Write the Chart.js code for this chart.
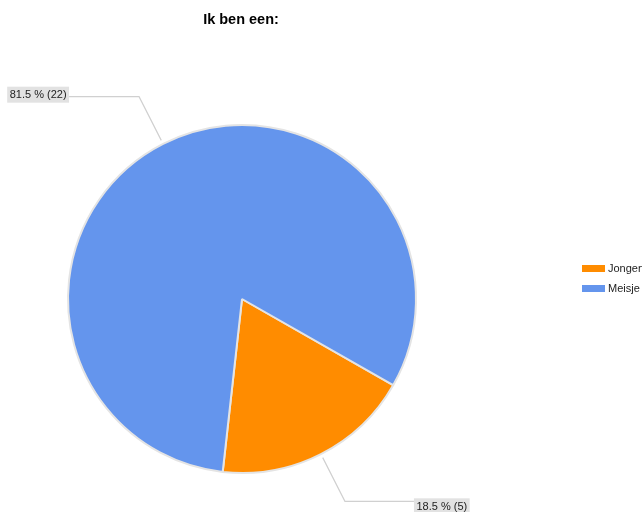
<!DOCTYPE html>
<html>
<head>
<meta charset="utf-8">
<script src="https://cdn.jsdelivr.net/npm/chart.js@4.4.1/dist/chart.umd.min.js"></script>
<style>
  html, body { margin: 0; padding: 0; background: #ffffff; }
  #wrap { width: 642px; height: 512px; position: relative; }
</style>
</head>
<body>
<div id="wrap"><canvas id="c" width="642" height="512"></canvas></div>
<script>
const titleText = 'Ik ben een:';
const categories = ['Jongen', 'Meisje'];
const counts = [5, 22];
const percentLabels = ['18.5 %', '81.5 %'];
const sliceColors = ['#ff8c00', '#6495ed'];

const FONT = '"Liberation Sans", Arial, sans-serif';

const overlayPlugin = {
  id: 'overlay',
  afterDraw(chart) {
    const ctx = chart.ctx;
    ctx.save();
    // Title
    ctx.font = 'bold 14.5px ' + FONT;
    ctx.fillStyle = '#000000';
    ctx.textAlign = 'center';
    ctx.textBaseline = 'middle';
    ctx.fillText(titleText, 241, 20);

    // Callouts
    const meta = chart.getDatasetMeta(0);
    meta.data.forEach((arc, i) => {
      const p = arc.getProps(['x', 'y', 'startAngle', 'endAngle', 'outerRadius'], true);
      const mid = (p.startAngle + p.endAngle) / 2;
      const r0 = p.outerRadius + 4;
      const r1 = p.outerRadius + 53;
      const sx = p.x + Math.cos(mid) * r0, sy = p.y + Math.sin(mid) * r0;
      const ex = p.x + Math.cos(mid) * r1, ey = p.y + Math.sin(mid) * r1;
      const right = Math.cos(mid) >= 0;
      const hx = right ? ex + 69 : ex - 70;
      ctx.strokeStyle = '#d0d0d0';
      ctx.lineWidth = 1.2;
      ctx.beginPath();
      ctx.moveTo(sx, sy);
      ctx.lineTo(ex, ey);
      ctx.lineTo(hx, ey);
      ctx.stroke();
      const text = percentLabels[i] + ' (' + counts[i] + ')';
      ctx.font = '11px ' + FONT;
      const tw = ctx.measureText(text).width;
      const bw = tw + 5, bh = 16;
      const bx = right ? hx : hx - bw;
      const by = right ? ey - 3 : ey - 10;
      ctx.fillStyle = '#e2e2e2';
      ctx.fillRect(bx, by, bw, bh);
      ctx.fillStyle = '#222222';
      ctx.textAlign = 'left';
      ctx.textBaseline = 'middle';
      ctx.fillText(text, bx + 2.5, by + bh / 2 + 0.5);
    });

    // Legend
    categories.forEach((name, i) => {
      const y = 265 + i * 20;
      ctx.fillStyle = sliceColors[i];
      ctx.fillRect(582, y, 23, 7);
      ctx.fillStyle = '#222222';
      ctx.font = '11px ' + FONT;
      ctx.textAlign = 'left';
      ctx.textBaseline = 'middle';
      ctx.fillText(name, 608, y + 3.5);
    });
    ctx.restore();
  }
};

new Chart(document.getElementById('c'), {
  type: 'pie',
  data: {
    labels: categories,
    datasets: [{
      data: counts,
      backgroundColor: sliceColors,
      borderColor: '#e4e4e4',
      borderWidth: 2
    }]
  },
  options: {
    responsive: false,
    animation: false,
    rotation: 119.7,
    layout: { padding: { left: 67, right: 225, top: 124, bottom: 38 } },
    plugins: {
      legend: { display: false },
      title: { display: false },
      tooltip: { enabled: false }
    }
  },
  plugins: [overlayPlugin]
});
</script>
</body>
</html>
